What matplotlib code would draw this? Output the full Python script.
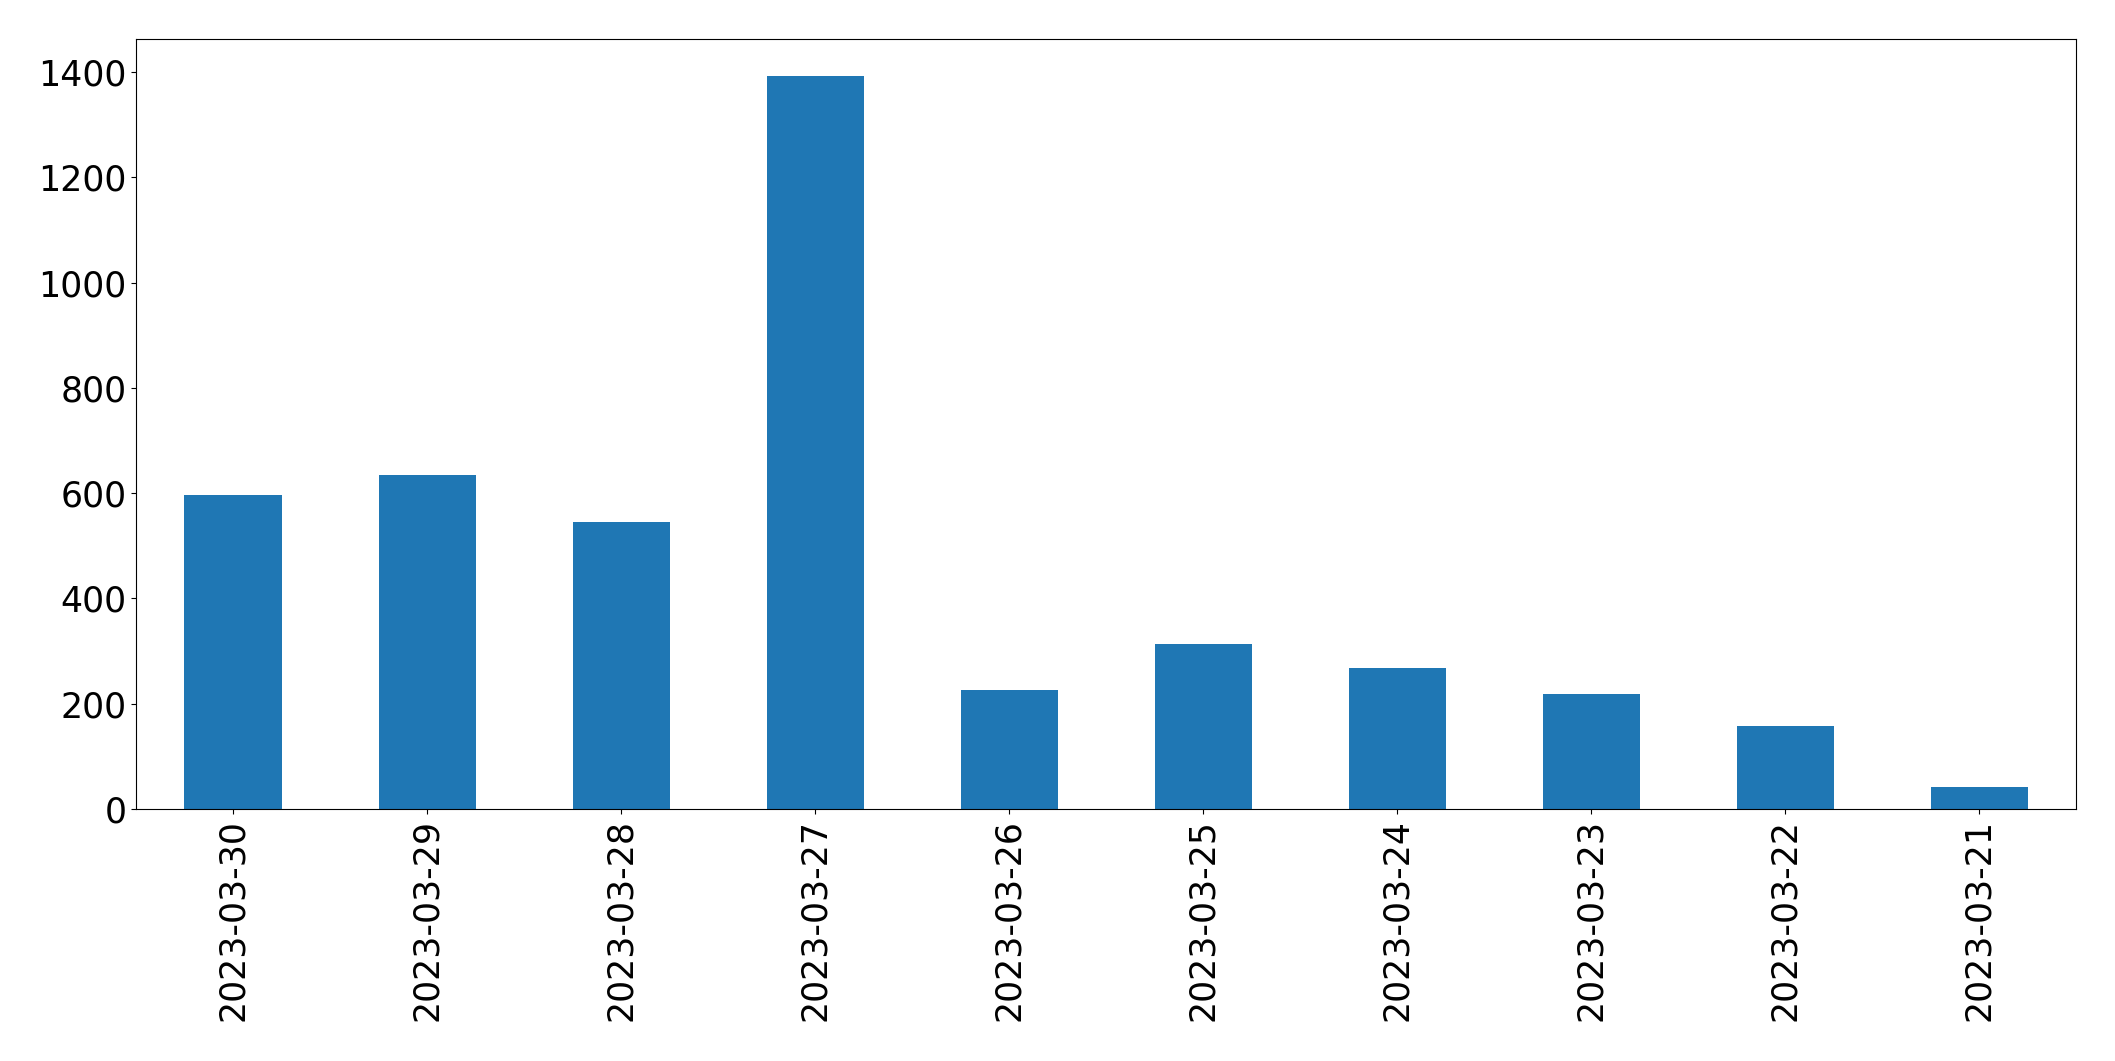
import matplotlib
matplotlib.use('Agg')
import matplotlib.pyplot as plt
import pandas as pd

dates = ['2023-03-30', '2023-03-29', '2023-03-28', '2023-03-27', '2023-03-26',
         '2023-03-25', '2023-03-24', '2023-03-23', '2023-03-22', '2023-03-21']
counts = [597, 635, 545, 1393, 226, 313, 268, 218, 158, 41]

s = pd.Series(counts, index=dates)

fig, ax = plt.subplots(figsize=(21.15, 10.61), dpi=100)
s.plot(kind='bar', ax=ax, color='#1f77b4')
ax.tick_params(axis='both', labelsize=25)
plt.subplots_adjust(left=0.0643, right=0.9816, top=0.9632, bottom=0.2375)
plt.savefig('out.png', dpi=100)
